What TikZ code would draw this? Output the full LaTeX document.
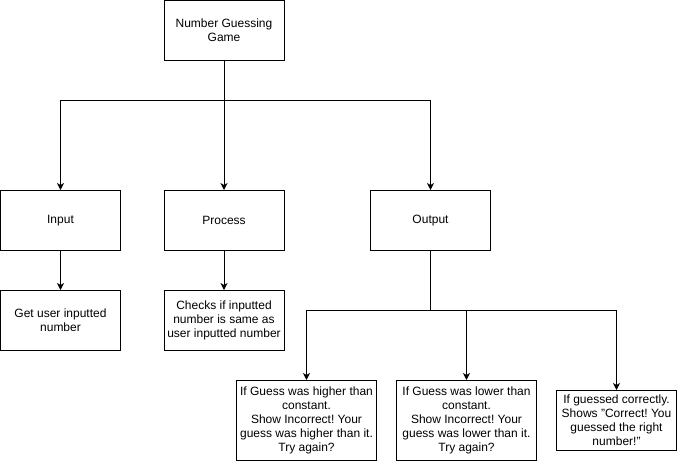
\documentclass[tikz,border=0pt]{standalone}
\usepackage{fontspec}
\setmainfont{Liberation Sans}
\usetikzlibrary{arrows.meta, positioning}
\frenchspacing

\begin{document}
\begin{tikzpicture}[x=1pt,y=-1pt,line width=1pt,
	box/.style={draw,rectangle,inner sep=0pt,minimum width=120pt,minimum height=60pt,align=center,font=\fontsize{12}{14}\selectfont},
	wide/.style={box,minimum width=140pt,minimum height=80pt},
	arr/.style={-{Stealth[length=7pt,width=7pt,inset=2pt]}}]
	\useasboundingbox (0,0) rectangle (677,461);
	\node (game) at (224,30.5) [box] {Number Guessing\\Game};
	\node (input) at (60.5,220.5) [box] {Input};
	\node (process) at (224,220.5) [box] {Process};
	\node (output) at (430.5,220.5) [box] {Output};
	\node (getnum) at (60.5,320.5) [box] {Get user inputted\\number};
	\node (checks) at (224,320.5) [box] {Checks if inputted\\number is same as\\user inputted number};
	\node (higher) at (306.5,420.5) [wide] {If Guess was higher than\\constant.\\Show Incorrect! Your\\guess was higher than it.\\Try again?};
	\node (lower) at (466.5,420.5) [wide] {If Guess was lower than\\constant.\\Show Incorrect! Your\\guess was lower than it.\\Try again?};
	\node (correct) at (616.5,420.5) [box] {If guessed correctly.\\Shows "Correct! You\\guessed the right\\number!"};
	
	\coordinate (split) at (224,100.5);
	\coordinate (outsplit) at (430.5,310.5);
	
	\draw[arr] (game) -- (process);
	\draw[arr] (split) -| (input);
	\draw[arr] (split) -| (output);
	
	\draw[arr] (input) -- (getnum);
	\draw[arr] (process) -- (checks);
	
	\draw (output) -- (outsplit);
	\draw[arr] (outsplit) -| (higher);
	\draw[arr] (outsplit) -| (lower);
	\draw[arr] (outsplit) -| (correct);
\end{tikzpicture}
\end{document}
